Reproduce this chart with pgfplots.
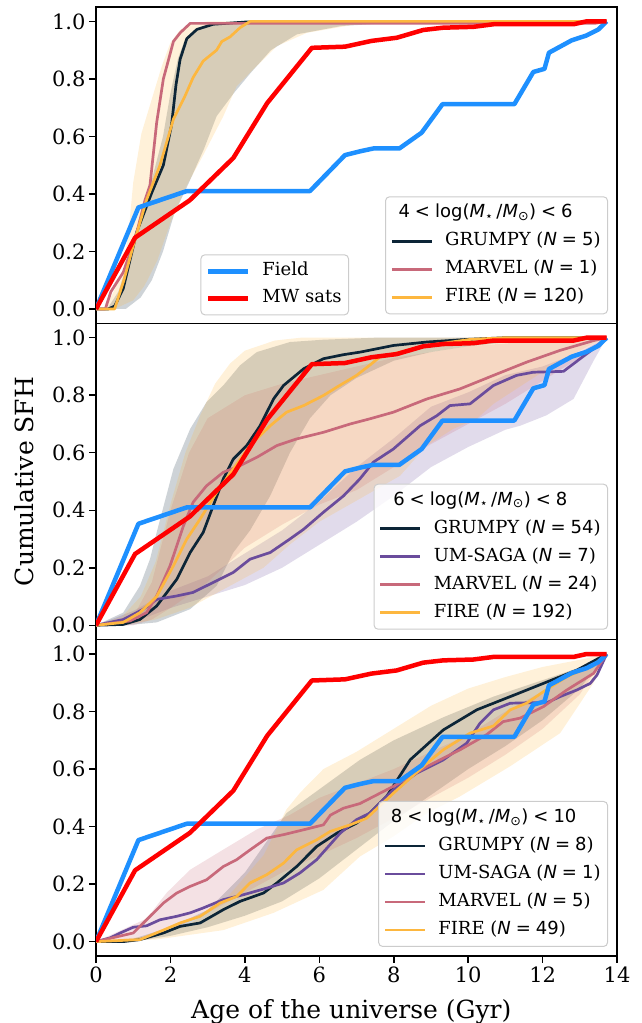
\documentclass[border=0pt]{standalone}
\usepackage{fontspec}
\setmainfont{DejaVu Serif}
\newfontfamily\dvs{DejaVu Sans}
\usepackage{pgfplots}
\usepackage{pgfplotstable}
\pgfplotsset{compat=1.18}

\definecolor{cField}{HTML}{1E90FF}
\definecolor{cMW}{HTML}{FF0000}
\definecolor{cGrumpy}{HTML}{0C2537}
\definecolor{cUM}{HTML}{6A4C9C}
\definecolor{cMarvel}{HTML}{C8697A}
\definecolor{cFire}{HTML}{FDB73F}

% Observed cumulative SFHs, identical in every mass bin
\pgfplotstableread{
t f
0 0
1.14 0.353
2.44 0.41
5.75 0.41
6.69 0.535
7.09 0.548
7.45 0.558
8.15 0.558
8.75 0.613
9.31 0.712
11.24 0.712
11.75 0.824
12.05 0.835
12.17 0.891
12.78 0.934
13.18 0.951
13.5 0.972
13.72 1.0
}\fieldtab

\pgfplotstableread{
t f
0 0
1.05 0.248
2.52 0.378
3.69 0.525
4.6 0.716
5.8 0.908
6.69 0.912
7.4 0.932
8.08 0.943
8.79 0.97
9.33 0.978
10.14 0.981
10.68 0.99
12.83 0.99
13.18 1.0
13.72 1.0
}\mwtab

\newcommand{\Nv}[1]{({\dvs\itshape N}{\dvs\;=\;#1})}
\newcommand{\mrange}[2]{{\dvs #1\;<\;log(\textit{M}\textsubscript{⋆}\,/\textit{M}\textsubscript{⊙})\;<\;#2}}

\pgfplotsset{
  panel/.style={
    scale only axis, width=521pt, height=316.3pt,
    xmin=0, xmax=14, ymin=-0.05, ymax=1.05,
    axis line style={line width=1.5pt, black},
    tick align=outside, major tick length=7pt,
    every tick/.style={line width=1.5pt, black},
    xtick pos=bottom, ytick pos=left,
    ytick={0,0.2,0.4,0.6,0.8,1.0},
    /pgf/number format/assume math mode=true,
    yticklabel style={/pgf/number format/.cd, fixed, fixed zerofill, precision=1},
    tick label style={font=\fontsize{21}{24}\selectfont},
    legend cell align=left,
    legend image code/.code={\draw[##1] (0pt,0pt) -- (40pt,0pt);},
    legend style={draw=black!20, line width=1pt, rounded corners=4pt,
      fill=white, fill opacity=0.8, text opacity=1,
      font=\fontsize{18}{21}\selectfont,
      inner xsep=5pt, inner ysep=6pt, row sep=7pt, column sep=10pt,
      nodes={inner sep=2pt, text height=13pt, text depth=4pt},
      anchor=south east},
  },
  band/.style={draw=none, fill=#1, fill opacity=0.2, forget plot},
  fieldline/.style={color=cField, line width=4.5pt, line join=round},
  mwline/.style={color=cMW, line width=4.5pt, line join=round},
  grumpy/.style={color=cGrumpy, line width=2.7pt, line join=round},
  umsaga/.style={color=cUM, line width=2.7pt, line join=round},
  marvel/.style={color=cMarvel, line width=2.7pt, line join=round},
  fire/.style={color=cFire, line width=2.7pt, line join=round},
}

\begin{document}
\begin{tikzpicture}
\path[use as bounding box] (-96pt,-67pt) rectangle (545pt,955.9pt);

% ---------------- 4 < log M < 6 ----------------
\begin{axis}[panel, at={(0pt,632.6pt)}, xtick=\empty,
  legend style={at={(0.9827,0.0285)}}]
\addlegendimage{empty legend}
\addlegendentry{\hspace*{-46.7pt}\mrange{4}{6}}
\addplot[band=cGrumpy] coordinates {
 (0.3,0) (0.6,0.06) (0.9,0.18) (1.2,0.33) (1.5,0.45) (1.8,0.6) (2.0,0.75) (2.2,0.87)
 (2.4,0.94) (2.7,0.975) (3.2,0.99) (4,1) (13.72,1)
 (8,0.995) (6.6,0.984) (5.4,0.955) (4.7,0.9) (4.15,0.82) (3.7,0.75) (3.24,0.67)
 (2.9,0.556) (2.5,0.44) (2.1,0.33) (1.8,0.2) (1.5,0.1) (1.2,0.04) (0.8,0.0)} -- cycle;
\addplot[band=cFire] coordinates {
 (0.2,0) (0.4,0.04) (0.73,0.13) (0.9,0.3) (1.0,0.44) (1.22,0.61) (1.5,0.73) (1.77,0.845)
 (2.0,0.926) (2.26,0.97) (2.53,0.99) (3,1) (13.72,1)
 (11,0.998) (8.5,0.995) (7,0.99) (5.66,0.96) (4.86,0.914) (4.32,0.845) (3.78,0.775)
 (3.42,0.67) (2.86,0.53) (2.44,0.43) (2.0,0.3) (1.65,0.17) (1.3,0.08) (1.0,0.03) (0.5,0)} -- cycle;
\addplot[grumpy] coordinates {
 (0,0) (0.33,0) (0.5,0.01) (0.73,0.07) (1.09,0.266) (1.5,0.405) (1.81,0.5) (2.03,0.64)
 (2.15,0.78) (2.26,0.868) (2.44,0.94) (2.71,0.972) (3.15,0.99) (4.05,0.998) (13.72,1.0)};
\addlegendentry{GRUMPY \Nv{5}}
\addplot[marvel] coordinates {
 (0,0) (0.25,0) (0.4,0.06) (0.73,0.127) (1.05,0.243) (1.32,0.38) (1.45,0.43) (1.63,0.648)
 (1.81,0.8) (2.08,0.93) (2.26,0.96) (2.53,0.993) (13.4,0.993) (13.72,1.0)};
\addlegendentry{MARVEL \Nv{1}}
\addplot[fire] coordinates {
 (0,0) (0.5,0) (0.75,0.1) (1.0,0.22) (1.36,0.38) (1.72,0.5) (2.08,0.66) (2.39,0.74)
 (2.61,0.805) (2.88,0.862) (3.24,0.9) (3.38,0.93) (3.6,0.946) (3.87,0.978) (4.14,1.0) (13.72,1.0)};
\addlegendentry{FIRE \Nv{120}}
\addplot[fieldline, forget plot] table[x=t, y=f] {\fieldtab};
\addplot[mwline, forget plot] table[x=t, y=f] {\mwtab};
\end{axis}

% legend of the observed samples
\begin{axis}[panel, at={(0pt,632.6pt)}, hide axis,
  legend style={at={(0.4856,0.0253)}, row sep=6pt}]
\addlegendimage{fieldline}
\addlegendentry{Field}
\addlegendimage{mwline}
\addlegendentry{MW sats}
\end{axis}

% ---------------- 6 < log M < 8 ----------------
\begin{axis}[panel, at={(0pt,316.3pt)}, xtick=\empty,
  ylabel={Cumulative SFH},
  every axis y label/.style={at={(axis description cs:-0.1209,0.5)}, anchor=base,
    rotate=90, font=\fontsize{25}{29}\selectfont},
  legend style={at={(0.9827,0.0315)}}]
\addlegendimage{empty legend}
\addlegendentry{\hspace*{-40.5pt}\mrange{6}{8}}
\addplot[band=cGrumpy] coordinates {
 (0,0) (0.73,0.044) (1.18,0.137) (1.45,0.23) (1.63,0.323) (2.08,0.544) (2.53,0.683)
 (2.97,0.776) (3.42,0.834) (3.87,0.904) (4.32,0.95) (5.21,0.985) (6.1,0.993) (7.5,1.0) (13.72,1.0)
 (11.5,0.99) (10,0.97) (9,0.95) (8,0.92) (7,0.86) (6.3,0.8) (5.75,0.72) (5.21,0.6)
 (4.68,0.45) (4.14,0.33) (3.69,0.253) (3.24,0.137) (2.53,0.056) (1.63,0.01) (0.8,0)} -- cycle;
\addplot[band=cUM] coordinates {
 (0,0) (1,0.05) (2,0.12) (3,0.17) (4,0.25) (5,0.33) (6,0.43) (7,0.55) (8,0.65) (9,0.76)
 (10,0.81) (11,0.87) (12,0.9) (13,0.95) (13.72,1)
 (13.37,0.92) (12.83,0.787) (12.1,0.73) (11.4,0.694) (11,0.68) (10,0.62) (9,0.55) (8,0.45)
 (7,0.36) (6,0.28) (5,0.2) (4,0.14) (3,0.1) (2,0.06) (1,0.01)} -- cycle;
\addplot[band=cMarvel] coordinates {
 (0,0) (1.0,0.03) (1.5,0.15) (2.0,0.4) (2.5,0.6) (3.0,0.72) (4,0.8) (5,0.84) (6,0.87)
 (7,0.9) (8,0.93) (9,0.95) (10,0.97) (12,0.99) (13.72,1)
 (13,0.93) (12,0.85) (11,0.77) (10,0.7) (9,0.63) (8,0.55) (7,0.47) (6,0.42) (5,0.35)
 (4,0.27) (3,0.15) (2,0.06) (1.5,0.02) (1.0,0)} -- cycle;
\addplot[band=cFire] coordinates {
 (0,0) (0.7,0.03) (1.2,0.1) (1.6,0.22) (2.0,0.42) (2.4,0.6) (2.8,0.73) (3.2,0.84) (3.6,0.91)
 (4.0,0.955) (4.8,0.99) (5.5,1.0) (13.72,1)
 (13.37,0.98) (12.47,0.92) (11.57,0.845) (10.68,0.77) (10.23,0.718) (9.6,0.683) (8.89,0.625)
 (8.17,0.52) (7.09,0.44) (6.0,0.36) (5.2,0.28) (4.5,0.2) (3.5,0.13) (2.5,0.06) (1.6,0.02) (0.7,0)} -- cycle;
\addplot[grumpy] coordinates {
 (0,0) (0.73,0.003) (1.18,0.02) (1.63,0.067) (2.17,0.16) (2.53,0.253) (2.88,0.323) (3.15,0.416)
 (3.42,0.509) (3.69,0.578) (4.05,0.625) (4.41,0.694) (4.77,0.787) (5.04,0.834) (5.58,0.892)
 (6.11,0.927) (6.65,0.941) (7.1,0.95) (7.99,0.973) (8.89,0.985) (9.96,0.994) (11,1.0) (13.72,1.0)};
\addlegendentry{GRUMPY \Nv{54}}
\addplot[umsaga] coordinates {
 (0,0) (0.73,0.02) (1.27,0.056) (1.63,0.09) (2.17,0.102) (2.6,0.114) (3.15,0.149) (3.69,0.184)
 (4.14,0.23) (4.68,0.253) (5.21,0.3) (5.58,0.334) (6.11,0.393) (6.65,0.45) (7.09,0.509)
 (7.45,0.567) (7.99,0.613) (8.71,0.694) (9.16,0.729) (9.51,0.764) (10.05,0.77) (10.68,0.834)
 (11.3,0.869) (11.75,0.88) (12.56,0.883) (13.01,0.927) (13.37,0.962) (13.72,1.0)};
\addlegendentry{UM-SAGA \Nv{7}}
\addplot[marvel] coordinates {
 (0,0) (0.91,0.015) (1.36,0.044) (1.63,0.102) (1.99,0.207) (2.35,0.346) (2.61,0.428)
 (2.97,0.485) (3.42,0.532) (3.87,0.555) (4.32,0.584) (4.86,0.625) (5.39,0.648) (6.11,0.671)
 (6.83,0.7) (7.36,0.718) (7.99,0.741) (8.89,0.787) (9.78,0.822) (10.68,0.869) (11.57,0.915)
 (12.47,0.956) (13.37,0.99) (13.72,1.0)};
\addlegendentry{MARVEL \Nv{24}}
\addplot[fire] coordinates {
 (0,0) (0.73,0.01) (1.18,0.044) (1.63,0.1) (2.08,0.207) (2.44,0.3) (2.8,0.37) (3.24,0.462)
 (3.69,0.544) (4.14,0.625) (4.68,0.694) (5.12,0.741) (5.58,0.764) (6.11,0.799) (6.47,0.828)
 (7.0,0.869) (7.36,0.905) (7.63,0.933) (8.17,0.95) (8.89,0.973) (10.05,0.994) (11,1.0) (13.72,1.0)};
\addlegendentry{FIRE \Nv{192}}
\addplot[fieldline, forget plot] table[x=t, y=f] {\fieldtab};
\addplot[mwline, forget plot] table[x=t, y=f] {\mwtab};
\end{axis}

% ---------------- 8 < log M < 10 ----------------
\begin{axis}[panel, at={(0pt,0pt)}, xtick={0,2,...,14},
  xlabel={Age of the universe (Gyr)},
  every axis x label/.style={at={(axis description cs:0.49,-0.197)}, anchor=base,
    font=\fontsize{25}{29}\selectfont},
  legend style={at={(0.9827,0.0285)}}]
\addlegendimage{empty legend}
\addlegendentry{\hspace*{-47.5pt}\mrange{8}{10}}
\addplot[band=cGrumpy] coordinates {
 (0,0) (1,0.01) (2,0.05) (3,0.11) (4,0.24) (5.12,0.447) (6.11,0.54) (7.09,0.632) (8,0.7)
 (9.33,0.78) (10.68,0.852) (12.02,0.91) (13.37,0.97) (13.72,1)
 (13,0.88) (12,0.77) (11,0.68) (10,0.6) (9,0.51) (8,0.42) (7,0.32) (6,0.22) (5,0.14)
 (4,0.09) (3,0.05) (2,0.02) (1,0)} -- cycle;
\addplot[band=cMarvel] coordinates {
 (0,0) (1.36,0.08) (1.9,0.17) (2.53,0.25) (3.42,0.32) (4.32,0.39) (5.2,0.44) (6,0.5)
 (7,0.55) (8,0.6) (9,0.66) (10,0.72) (11,0.8) (12,0.87) (13,0.94) (13.72,1)
 (13,0.86) (12,0.74) (11,0.65) (10,0.57) (9,0.5) (8,0.43) (7,0.36) (6,0.3) (5,0.24)
 (4,0.17) (3,0.1) (2,0.04) (1.2,0.01)} -- cycle;
\addplot[band=cFire] coordinates {
 (0,0) (1.5,0.02) (2.5,0.06) (3.5,0.15) (4.5,0.3) (5.12,0.46) (5.5,0.52) (6.11,0.6) (7.0,0.66)
 (8,0.74) (9,0.82) (10,0.88) (11,0.92) (12,0.955) (13,0.98) (13.72,1)
 (13.37,0.9) (12.47,0.725) (11.13,0.61) (9.78,0.505) (8.89,0.447) (7.99,0.366) (7.09,0.296)
 (6.11,0.18) (4.77,0.1) (3.42,0.04) (1.6,0.007)} -- cycle;
\addplot[grumpy] coordinates {
 (0,0) (0.73,0) (1.18,0.007) (1.81,0.03) (2.26,0.053) (2.8,0.065) (3.42,0.111) (3.87,0.14)
 (4.5,0.169) (4.86,0.204) (5.39,0.261) (5.93,0.331) (6.47,0.377) (7.0,0.412) (7.36,0.447)
 (7.81,0.505) (8.44,0.632) (9.33,0.736) (10.23,0.806) (11.13,0.852) (12.02,0.898)
 (12.92,0.944) (13.72,1.0)};
\addlegendentry{GRUMPY \Nv{8}}
\addplot[umsaga] coordinates {
 (0,0) (0.38,0.013) (0.65,0.03) (1.0,0.05) (1.36,0.055) (1.72,0.076) (2.17,0.088) (2.53,0.1)
 (2.88,0.117) (3.42,0.146) (3.96,0.163) (4.59,0.186) (5.04,0.204) (5.48,0.239) (5.93,0.285)
 (6.56,0.377) (7.0,0.424) (7.36,0.447) (7.99,0.528) (8.62,0.586) (9.33,0.632) (9.96,0.69)
 (10.32,0.76) (10.68,0.806) (11.13,0.829) (11.75,0.831) (12.1,0.83) (12.47,0.852)
 (12.92,0.875) (13.28,0.898) (13.46,0.927) (13.72,1.0)};
\addlegendentry{UM-SAGA \Nv{1}}
\addplot[marvel] coordinates {
 (0,0) (1.0,0.03) (1.36,0.076) (1.81,0.134) (2.17,0.169) (2.53,0.192) (2.97,0.215) (3.42,0.261)
 (3.78,0.285) (4.14,0.319) (4.59,0.36) (5.04,0.372) (5.58,0.389) (6.11,0.406) (6.3,0.44)
 (6.65,0.464) (7.09,0.48) (7.99,0.54) (8.89,0.609) (9.78,0.667) (10.5,0.72) (10.94,0.765)
 (11.39,0.777) (12.02,0.817) (12.65,0.875) (13.37,0.933) (13.72,1.0)};
\addlegendentry{MARVEL \Nv{5}}
\addplot[fire] coordinates {
 (0,0) (1.18,0.007) (1.81,0.04) (2.26,0.065) (2.8,0.088) (3.33,0.134) (3.78,0.157) (4.14,0.204)
 (4.59,0.233) (5.04,0.273) (5.39,0.319) (5.93,0.354) (6.29,0.383) (6.83,0.406) (7.27,0.429)
 (7.99,0.516) (8.89,0.62) (9.33,0.667) (10.05,0.725) (10.68,0.75) (11.13,0.806) (11.57,0.829)
 (12.02,0.869) (12.65,0.921) (13.37,0.962) (13.72,1.0)};
\addlegendentry{FIRE \Nv{49}}
\addplot[fieldline, forget plot] table[x=t, y=f] {\fieldtab};
\addplot[mwline, forget plot] table[x=t, y=f] {\mwtab};
\end{axis}
\end{tikzpicture}
\end{document}
